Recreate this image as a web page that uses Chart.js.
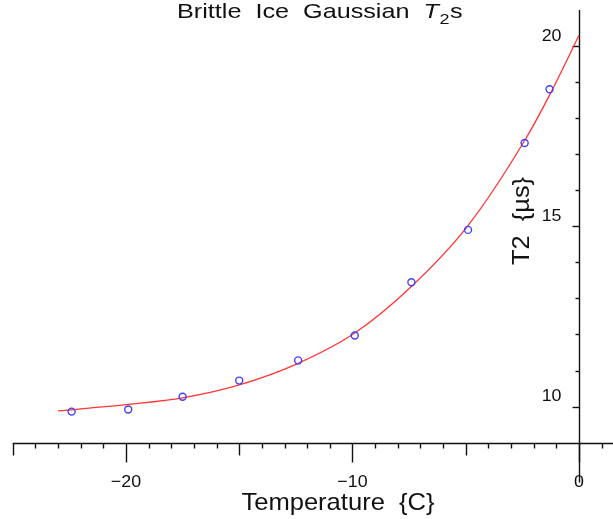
<!DOCTYPE html>
<html>
<head>
<meta charset="utf-8">
<script src="https://cdn.jsdelivr.net/npm/chart.js@4.4.1/dist/chart.umd.min.js"></script>
<style>
  html, body { margin: 0; padding: 0; background: #ffffff; }
  #wrap { width: 613px; height: 519px; }
  canvas { display: block; }
</style>
</head>
<body>
<div id="wrap"><canvas id="c" width="613" height="519"></canvas></div>
<script>
// ---- data ----
const tempC = [-22.4, -19.9, -17.5, -15.0, -12.4, -9.9, -7.4, -4.9, -2.4, -1.3];
const t2us  = [9.86, 9.92, 10.27, 10.72, 11.28, 11.97, 13.45, 14.90, 17.31, 18.80];

const fitTempC = [-23.0, -19.9, -17.5, -15.0, -12.4, -9.9, -7.4, -4.9, -2.4, -1.3, 0.0];
const fitT2us  = [9.88, 10.06, 10.24, 10.60, 11.20, 12.04, 13.33, 15.02, 17.38, 18.64, 20.30];

const xTickLabels = [-20, -10, 0];
const yTickLabels = [10, 15, 20];

const titleMain = 'Brittle  Ice  Gaussian  ';
const xTitle = 'Temperature  {C}';
const yTitle = 'T2  {\u00B5s}';

const X_MIN = -25, X_MAX = 1.5, Y_MIN = 9, Y_MAX = 21;

const FONT = '"Liberation Sans", Arial, sans-serif';
const INK = '#111111';

function drawText(ctx, text, x, y, font, align, sx) {
  ctx.save();
  ctx.font = font;
  ctx.textBaseline = 'alphabetic';
  ctx.textAlign = 'left';
  const w = ctx.measureText(text).width * sx;
  let x0 = x;
  if (align === 'center') x0 = x - w / 2;
  else if (align === 'right') x0 = x - w;
  ctx.translate(x0, y);
  ctx.scale(sx, 1);
  ctx.fillStyle = INK;
  ctx.fillText(text, 0, 0);
  ctx.restore();
  return w;
}

const axesPlugin = {
  id: 'customAxes',
  beforeDatasetsDraw(chart) {
    const ctx = chart.ctx;
    const xs = chart.scales.x, ys = chart.scales.y;
    const area = chart.chartArea;
    const x0 = Math.round(xs.getPixelForValue(0)) + 0.5;
    const yBase = Math.round(area.bottom) + 0.5;
    ctx.save();
    ctx.strokeStyle = INK;
    ctx.lineWidth = 1.4;
    // x axis line
    ctx.beginPath();
    ctx.moveTo(xs.getPixelForValue(X_MIN), yBase);
    ctx.lineTo(chart.width, yBase);
    ctx.stroke();
    // y axis line (extends below the x axis through the 0 label)
    ctx.beginPath();
    ctx.moveTo(x0, ys.getPixelForValue(Y_MAX));
    ctx.lineTo(x0, yBase + 39);
    ctx.stroke();
    // x ticks
    for (let v = X_MIN; v <= Math.floor(X_MAX); v++) {
      const px = Math.round(xs.getPixelForValue(v)) + 0.5;
      let len = 5;
      if (v % 10 === 0) len = 19;
      else if (v % 5 === 0) len = 12;
      ctx.beginPath();
      ctx.moveTo(px, yBase);
      ctx.lineTo(px, yBase + len);
      ctx.stroke();
    }
    // y ticks (pointing left)
    for (let v = 10; v <= 20; v++) {
      const py = Math.round(ys.getPixelForValue(v)) + 0.5;
      const len = (v % 5 === 0) ? 7 : 4;
      ctx.beginPath();
      ctx.moveTo(x0, py);
      ctx.lineTo(x0 - len, py);
      ctx.stroke();
    }
    ctx.restore();

    // tick labels
    const tickFont = '17px ' + FONT;
    xTickLabels.forEach(v => {
      const label = v < 0 ? '\u2212' + Math.abs(v) : String(v);
      drawText(ctx, label, xs.getPixelForValue(v), yBase + 43, tickFont, 'center', 1.05);
    });
    yTickLabels.forEach(v => {
      drawText(ctx, String(v), x0 - 18, ys.getPixelForValue(v) - 5.5, tickFont, 'right', 1.05);
    });

    // chart title with italic T and subscript 2
    const sx = 1.2;
    let tx = 177;
    const tb = 17.5;
    tx += drawText(ctx, titleMain, tx, tb, '21px ' + FONT, 'left', sx);
    tx += drawText(ctx, 'T', tx, tb, 'italic 21px ' + FONT, 'left', sx);
    tx += drawText(ctx, '2', tx + 0.5, tb + 6, '15px ' + FONT, 'left', sx) + 1;
    drawText(ctx, 's', tx, tb, '21px ' + FONT, 'left', sx);

    // x axis title
    drawText(ctx, xTitle, 338, 510, '24px ' + FONT, 'center', 1.065);

    // y axis title (rotated)
    ctx.save();
    ctx.translate(529, 221);
    ctx.rotate(-Math.PI / 2);
    drawText(ctx, yTitle, 0, 0, '24px ' + FONT, 'center', 1.06);
    ctx.restore();
  }
};

const pointData = tempC.map((t, i) => ({ x: t, y: t2us[i] }));
const fitData = fitTempC.map((t, i) => ({ x: t, y: fitT2us[i] }));

new Chart(document.getElementById('c'), {
  type: 'scatter',
  data: {
    datasets: [
      {
        label: 'T2 data',
        data: pointData,
        showLine: false,
        pointStyle: 'circle',
        pointRadius: 3.5,
        pointBorderWidth: 1.4,
        pointBorderColor: '#4040ff',
        pointBackgroundColor: 'rgba(255,255,255,0)',
        order: 0
      },
      {
        label: 'fit',
        data: fitData,
        showLine: true,
        pointRadius: 0,
        borderColor: '#ff3535',
        borderWidth: 1.3,
        cubicInterpolationMode: 'monotone',
        fill: false,
        order: 1
      }
    ]
  },
  options: {
    responsive: false,
    animation: false,
    devicePixelRatio: 1,
    layout: { autoPadding: false, padding: { left: 12.7, right: 0, top: 10, bottom: 76.4 } },
    plugins: {
      legend: { display: false },
      title: { display: false },
      tooltip: { enabled: false }
    },
    scales: {
      x: { type: 'linear', min: X_MIN, max: X_MAX, display: false },
      y: { type: 'linear', min: Y_MIN, max: Y_MAX, display: false }
    }
  },
  plugins: [axesPlugin]
});
</script>
</body>
</html>
